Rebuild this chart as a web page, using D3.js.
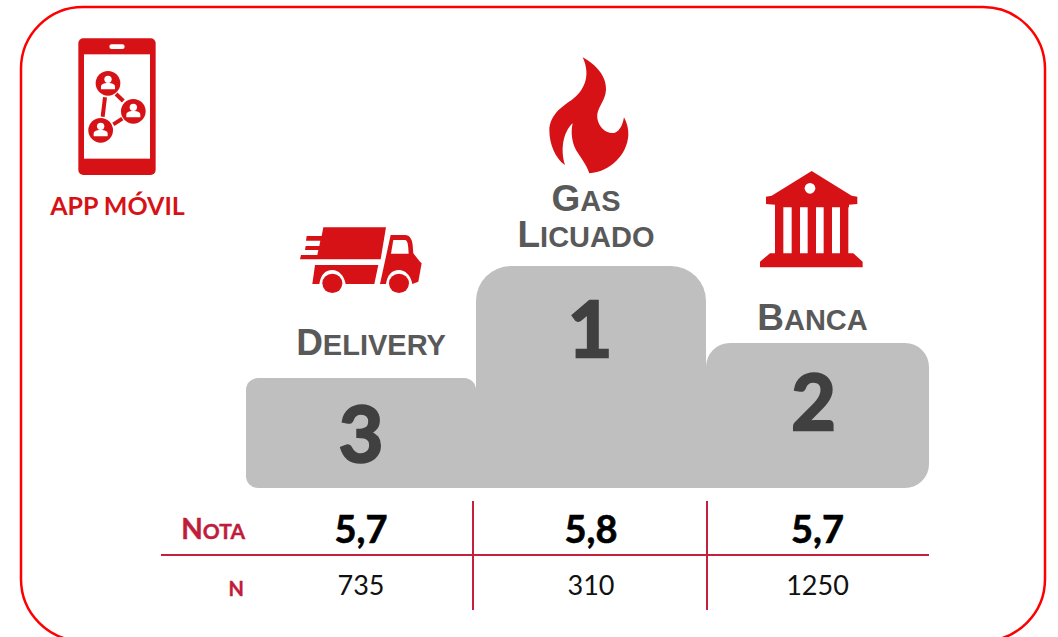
<!DOCTYPE html>
<html lang="es">
<meta charset="utf-8">
<style>
  body { margin: 0; background: #fff; }
  svg { display: block; }
  .small { text-transform: uppercase; }
  .label { font-family: 'Liberation Sans', sans-serif; font-weight: bold; fill: #595959; }
  .rank { font-family: Lato, sans-serif; font-weight: bold; font-size: 77px; fill: #404040; stroke: #404040; stroke-width: 2.4px; text-anchor: middle; }
  .nota { font-family: Lato, sans-serif; font-weight: bold; font-size: 38px; fill: #000; stroke: #000; stroke-width: .6px; text-anchor: middle; }
  .n { font-family: Lato, sans-serif; font-size: 27px; fill: #111; text-anchor: middle; }
  .rowname { font-family: Lato, sans-serif; font-weight: bold; fill: #c01c3c; stroke: #c01c3c; stroke-width: .4px; text-anchor: end; }
  .icon { fill: #d71216; }
</style>
<body>
<div id="chart"></div>
<script src="https://d3js.org/d3.v7.min.js"></script>
<script>
// values
var categories = ["Delivery", "Gas Licuado", "Banca"];
var ranks = [3, 1, 2];
var podiumHeights = [110, 222, 145];
var notas = ["5,7", "5,8", "5,7"];
var counts = [735, 310, 1250];

var width = 1058,
    height = 637;

var svg = d3.select("#chart").append("svg")
    .attr("width", width)
    .attr("height", height);

// outer frame, runs off the bottom of the page
svg.append("rect")
    .attr("x", 21).attr("y", 7)
    .attr("width", 1024).attr("height", 634)
    .attr("rx", 62).attr("ry", 62)
    .attr("fill", "none")
    .attr("stroke", "#ff0000")
    .attr("stroke-width", 2.5);

// band edges are not quite even in the original, so piecewise scale
var xEdge = d3.scaleLinear()
    .domain([0, 1, 2, 3])
    .range([246, 476, 706, 929]);

var baseY = 488;
var y = d3.scaleLinear()
    .domain([0, d3.max(podiumHeights)])
    .range([baseY, 266]);

function center(i) { return (xEdge(i) + xEdge(i + 1)) / 2; }

// rounded top corners, plus the outer bottom corner on the end steps
function step(i) {
  var x0 = xEdge(i), x1 = xEdge(i + 1), top = y(podiumHeights[i]);
  var r = [12, 35, 24][i];
  var bl = i == 0 ? 12 : 0, br = i == 2 ? 24 : 0;
  return "M" + x0 + "," + (top + r) +
    "A" + r + "," + r + " 0 0 1 " + (x0 + r) + "," + top +
    "L" + (x1 - r) + "," + top +
    "A" + r + "," + r + " 0 0 1 " + x1 + "," + (top + r) +
    "L" + x1 + "," + (baseY - br) +
    (br ? "A" + br + "," + br + " 0 0 1 " + (x1 - br) + "," + baseY : "") +
    "L" + (x0 + bl) + "," + baseY +
    (bl ? "A" + bl + "," + bl + " 0 0 1 " + x0 + "," + (baseY - bl) : "") +
    "Z";
}

svg.append("g").selectAll("path")
    .data(categories)
  .enter().append("path")
    .attr("d", function(d, i) { return step(i); })
    .attr("fill", "#bfbfbf");

// rank digits
var rankDx = [0, -1, -4],
    rankDy = [84, 91, 87];
svg.append("g").selectAll("text")
    .data(ranks)
  .enter().append("text")
    .attr("class", "rank")
    .attr("x", function(d, i) { return center(i) + rankDx[i]; })
    .attr("y", function(d, i) { return y(podiumHeights[i]) + rankDy[i]; })
    .text(function(d) { return d; });

// category names, small caps done by hand so the sizes can be matched
var labelDx = [10, -5, -5],
    labelDy = [-23, -19, -13],
    lineGap = 36;
categories.forEach(function(name, i) {
  var words = name.split(" ");
  words.forEach(function(word, j) {
    var t = svg.append("text")
        .attr("class", "label")
        .attr("text-anchor", "middle")
        .attr("x", center(i) + labelDx[i])
        .attr("y", y(podiumHeights[i]) + labelDy[i] - (words.length - 1 - j) * lineGap);
    t.append("tspan").attr("font-size", 37).text(word[0]);
    t.append("tspan").attr("class", "small").attr("font-size", 29).text(word.slice(1));
  });
});

// table
var tableLine = "#c5203e";
svg.append("line")
    .attr("x1", 161).attr("x2", 929)
    .attr("y1", 555).attr("y2", 555)
    .attr("stroke", tableLine).attr("stroke-width", 2.2);
svg.append("g").selectAll("line")
    .data([473, 707])
  .enter().append("line")
    .attr("x1", function(d) { return d; })
    .attr("x2", function(d) { return d; })
    .attr("y1", 501).attr("y2", 610)
    .attr("stroke", tableLine).attr("stroke-width", 2);

svg.append("g").selectAll("text")
    .data(notas)
  .enter().append("text")
    .attr("class", "nota")
    .attr("x", function(d, i) { return center(i); })
    .attr("y", 543)
    .text(function(d) { return d; });

svg.append("g").selectAll("text")
    .data(counts)
  .enter().append("text")
    .attr("class", "n")
    .attr("x", function(d, i) { return center(i); })
    .attr("y", 595)
    .text(function(d) { return d; });

var notaName = svg.append("text").attr("class", "rowname").attr("x", 245).attr("y", 539);
notaName.append("tspan").attr("font-size", 28).text("N");
notaName.append("tspan").attr("class", "small").attr("font-size", 21).text("ota");
svg.append("text").attr("class", "rowname").attr("x", 244).attr("y", 596)
    .attr("font-size", 20).text("N");

function icon(x, y) {
  return svg.append("g").attr("class", "icon")
      .attr("transform", "translate(" + x + "," + y + ") scale(0.3333)");
}

// flame
icon(500, 40).append("path")
    .attr("d", "M248,52C290,75 320,110 318,150C316,185 288,205 292,235C296,265 325,285 345,278C360,272 368,255 372,232C382,250 386,270 385,285C382,345 330,395 268,400C260,375 240,350 228,330C215,305 212,275 218,250C195,270 178,320 195,375C165,355 148,310 148,270C150,225 185,200 215,180C250,155 275,110 248,52Z");

// truck
var truck = icon(280, 210);
truck.append("path")
    .attr("d", "M130,52L318,52L302,148L60,148L63,135L112,135L115,120L75,120L77,108L118,108L121,92L78,92L80,78L125,78Z");
truck.append("path")
    .attr("d", "M105,165L295,165L283,222L197,222C192,195 175,180 157,180C135,180 122,195 118,222L97,222Z");
truck.append("path")
    .attr("fill-rule", "evenodd")
    .attr("d", "M332,75L375,75C390,75 397,90 398,105L400,130L420,155L425,160L415,215L397,222C392,195 375,180 357,180C335,180 322,195 318,222L300,222ZM340,90L375,90C383,90 385,105 386,131L333,131Z");
truck.append("ellipse").attr("cx", 157).attr("cy", 220).attr("rx", 30).attr("ry", 29);
truck.append("ellipse").attr("cx", 357).attr("cy", 220).attr("rx", 30).attr("ry", 29);

// bank
var bank = icon(740, 160);
bank.append("path")
    .attr("d", "M215,33L335,107L352,110L352,132L327,134L327,142L105,142L105,134L78,132L78,110L95,107Z");
bank.append("circle").attr("cx", 210).attr("cy", 85).attr("r", 16).attr("fill", "#fff");
[105, 155, 203, 251, 300].forEach(function(cx) {
  bank.append("rect").attr("x", cx).attr("y", 135).attr("width", 25).attr("height", 150);
});
bank.append("path").attr("d", "M90,280L340,280L368,305L368,322L60,322L60,305Z");

// phone
var phone = icon(40, 20);
phone.append("rect").attr("x", 115).attr("y", 55).attr("width", 232).attr("height", 410).attr("rx", 15);
phone.append("rect").attr("x", 132).attr("y", 103).attr("width", 198).attr("height", 313).attr("fill", "#fff");
phone.append("rect").attr("x", 208).attr("y", 73).attr("width", 46).attr("height", 14).attr("rx", 7).attr("fill", "#fff");
[[195, 232, 188, 290], [228, 222, 250, 243], [220, 313, 247, 296]].forEach(function(l) {
  phone.append("line")
      .attr("x1", l[0]).attr("y1", l[1]).attr("x2", l[2]).attr("y2", l[3])
      .attr("stroke", "#d71216").attr("stroke-width", 12);
});
[[204, 190], [280, 274], [182, 331]].forEach(function(c) {
  phone.append("circle").attr("cx", c[0]).attr("cy", c[1]).attr("r", 37);
  phone.append("circle").attr("cx", c[0]).attr("cy", c[1] - 12).attr("r", 11).attr("fill", "#fff");
  phone.append("path")
      .attr("d", "M" + (c[0] - 21) + "," + (c[1] + 18) + "v-8c0,-7 8,-11 21,-11s21,4 21,11v8z")
      .attr("fill", "#fff");
});

svg.append("text")
    .attr("x", 117.5).attr("y", 215)
    .attr("text-anchor", "middle")
    .attr("font-family", "Lato, sans-serif")
    .attr("font-weight", "bold")
    .attr("font-size", 25)
    .attr("fill", "#d71216")
    .text("APP MÓVIL");
</script>
</body>
</html>
